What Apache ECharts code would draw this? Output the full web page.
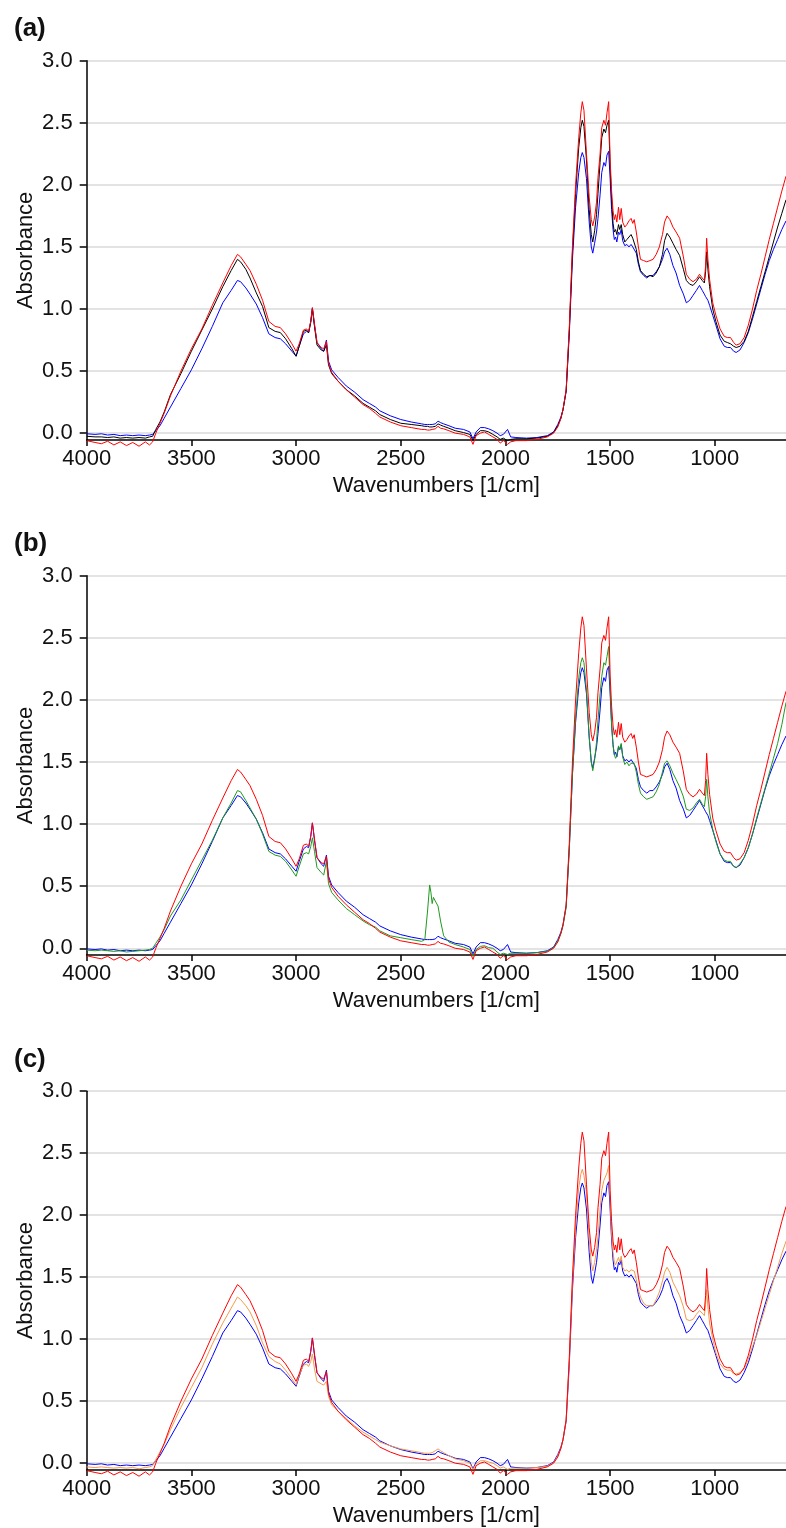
<!DOCTYPE html>
<html><head><meta charset="utf-8">
<script src="https://cdn.jsdelivr.net/npm/echarts@6/dist/echarts.min.js"></script>
<style>html,body{margin:0;padding:0;background:#fff}#chart{width:786px;height:1528px}</style>
</head><body><div id="chart"></div>
<script>
// wavenumbers (1/cm), descending
const wavenumbers = [
 4000, 3960, 3930, 3900, 3870, 3840, 3810, 3780, 3750, 3720,
 3700, 3685, 3670, 3650, 3630, 3600, 3550, 3500, 3450, 3400,
 3350, 3310, 3280, 3265, 3240, 3220, 3190, 3160, 3130, 3100,
 3075, 3050, 3020, 3000, 2985, 2965, 2950, 2940, 2930, 2922,
 2912, 2900, 2880, 2868, 2855, 2845, 2830, 2800, 2760, 2720,
 2680, 2650, 2620, 2600, 2550, 2500, 2450, 2400, 2385, 2372,
 2362, 2356, 2350, 2344, 2335, 2322, 2310, 2295, 2270, 2240,
 2200, 2170, 2155, 2140, 2120, 2100, 2080, 2060, 2040, 2025,
 2010, 1990, 1975, 1950, 1900, 1850, 1800, 1770, 1750, 1735,
 1725, 1710, 1695, 1680, 1665, 1650, 1640, 1633, 1625, 1613,
 1600, 1590, 1583, 1574, 1565, 1558, 1548, 1540, 1530, 1522,
 1515, 1507, 1500, 1493, 1486, 1480, 1474, 1468, 1460, 1454,
 1447, 1440, 1430, 1420, 1410, 1400, 1392, 1385, 1375, 1365,
 1355, 1340, 1325, 1310, 1295, 1280, 1265, 1250, 1240, 1228,
 1215, 1200, 1185, 1168, 1150, 1136, 1120, 1104, 1088, 1073,
 1060, 1050, 1044, 1039, 1033, 1025, 1010, 995, 975, 955,
 940, 925, 910, 898, 880, 860, 840, 820, 800, 780,
 760, 740, 720, 700, 680, 660
];
const redSpectrum = [
 -0.06, -0.075, -0.085, -0.065, -0.095, -0.07, -0.1, -0.075, -0.105, -0.07,
 -0.095, -0.07, 0.0, 0.08, 0.16, 0.30, 0.50, 0.68, 0.84, 1.03,
 1.21, 1.35, 1.44, 1.42, 1.36, 1.31, 1.20, 1.07, 0.90, 0.86,
 0.85, 0.80, 0.72, 0.66, 0.72, 0.83, 0.84, 0.82, 0.90, 1.01,
 0.88, 0.73, 0.69, 0.68, 0.74, 0.56, 0.49, 0.42, 0.35, 0.29,
 0.23, 0.20, 0.16, 0.13, 0.09, 0.06, 0.045, 0.03, 0.03, 0.025,
 0.025, 0.025, 0.03, 0.03, 0.035, 0.055, 0.04, 0.035, 0.02, 0.0,
 -0.01, -0.03, -0.09, -0.02, 0.0, 0.01, -0.01, -0.03, -0.05, -0.08,
 -0.06, -0.09, -0.07, -0.06, -0.06, -0.05, -0.03, 0.0, 0.05, 0.12,
 0.19, 0.35, 0.85, 1.50, 2.00, 2.38, 2.58, 2.67, 2.60, 2.25,
 1.90, 1.72, 1.67, 1.74, 1.86, 2.06, 2.25, 2.46, 2.52, 2.48,
 2.58, 2.67, 2.20, 1.95, 1.79, 1.72, 1.76, 1.70, 1.82, 1.72,
 1.81, 1.70, 1.66, 1.68, 1.71, 1.73, 1.69, 1.72, 1.62, 1.50,
 1.40, 1.39, 1.38, 1.39, 1.40, 1.44, 1.50, 1.60, 1.70, 1.75,
 1.72, 1.66, 1.62, 1.57, 1.42, 1.28, 1.24, 1.22, 1.24, 1.28,
 1.25, 1.23, 1.35, 1.57, 1.40, 1.24, 1.05, 0.95, 0.84, 0.78,
 0.77, 0.77, 0.73, 0.71, 0.72, 0.77, 0.87, 1.00, 1.15, 1.28,
 1.42, 1.56, 1.69, 1.82, 1.95, 2.07
];
const blueSpectrum = [
 -0.005, -0.01, -0.005, -0.015, -0.01, -0.02, -0.015, -0.02, -0.015, -0.02,
 -0.015, -0.01, 0.02, 0.06, 0.12, 0.21, 0.36, 0.51, 0.68, 0.86,
 1.05, 1.15, 1.23, 1.22, 1.17, 1.12, 1.04, 0.93, 0.80, 0.77,
 0.76, 0.72, 0.66, 0.62, 0.70, 0.80, 0.82, 0.81, 0.90, 1.01,
 0.87, 0.73, 0.68, 0.66, 0.75, 0.58, 0.51, 0.45, 0.38, 0.33,
 0.27, 0.24, 0.21, 0.18, 0.14, 0.11, 0.09, 0.075, 0.07, 0.07,
 0.07, 0.07, 0.07, 0.072, 0.075, 0.097, 0.085, 0.075, 0.06, 0.04,
 0.03, 0.01, -0.045, 0.01, 0.045, 0.045, 0.035, 0.02, 0.0, -0.02,
 -0.01, 0.03, -0.03, -0.035, -0.04, -0.035, -0.02, 0.01, 0.07, 0.13,
 0.19, 0.34, 0.80, 1.40, 1.82, 2.10, 2.22, 2.26, 2.22, 2.05,
 1.70, 1.50, 1.45, 1.53, 1.62, 1.73, 1.92, 2.10, 2.18, 2.15,
 2.24, 2.27, 2.05, 1.80, 1.64, 1.56, 1.58, 1.54, 1.62, 1.60,
 1.64, 1.55, 1.51, 1.52, 1.50, 1.52, 1.50, 1.50, 1.45, 1.36,
 1.30, 1.27, 1.25, 1.27, 1.27, 1.30, 1.34, 1.40, 1.46, 1.49,
 1.44, 1.35, 1.29, 1.19, 1.12, 1.05, 1.07, 1.11, 1.15, 1.19,
 1.15, 1.12, 1.10, 1.09, 1.07, 1.03, 0.95, 0.87, 0.76, 0.70,
 0.69, 0.69, 0.66, 0.65, 0.67, 0.73, 0.81, 0.92, 1.04, 1.16,
 1.28, 1.39, 1.48, 1.56, 1.64, 1.71
];
const blackSpectrum = [
 -0.025, -0.03, -0.03, -0.035, -0.03, -0.04, -0.035, -0.04, -0.035, -0.04,
 -0.03, -0.025, 0.03, 0.09, 0.17, 0.31, 0.48, 0.66, 0.83, 1.00,
 1.18, 1.31, 1.40, 1.38, 1.32, 1.25, 1.13, 1.02, 0.85, 0.82,
 0.81, 0.76, 0.68, 0.62, 0.70, 0.82, 0.83, 0.81, 0.89, 1.00,
 0.86, 0.71, 0.67, 0.66, 0.71, 0.55, 0.48, 0.42, 0.35, 0.30,
 0.24, 0.21, 0.18, 0.15, 0.11, 0.08, 0.07, 0.06, 0.055, 0.055,
 0.05, 0.05, 0.05, 0.052, 0.055, 0.075, 0.065, 0.055, 0.04, 0.02,
 0.005, -0.01, -0.06, -0.01, 0.02, 0.02, 0.01, -0.01, -0.03, -0.05,
 -0.04, -0.06, -0.05, -0.045, -0.045, -0.04, -0.025, 0.005, 0.06, 0.12,
 0.19, 0.34, 0.83, 1.46, 1.93, 2.30, 2.46, 2.52, 2.47, 2.20,
 1.80, 1.60, 1.54, 1.63, 1.76, 1.93, 2.18, 2.38, 2.45, 2.42,
 2.48, 2.52, 2.15, 1.88, 1.69, 1.62, 1.64, 1.60, 1.68, 1.64,
 1.68, 1.60, 1.54, 1.56, 1.58, 1.60, 1.57, 1.58, 1.48, 1.38,
 1.31, 1.28, 1.26, 1.27, 1.26, 1.29, 1.34, 1.44, 1.55, 1.61,
 1.58, 1.53, 1.48, 1.43, 1.32, 1.23, 1.20, 1.19, 1.22, 1.26,
 1.23, 1.21, 1.30, 1.46, 1.32, 1.18, 1.00, 0.90, 0.79, 0.74,
 0.73, 0.72, 0.70, 0.69, 0.70, 0.74, 0.82, 0.94, 1.06, 1.18,
 1.30, 1.42, 1.54, 1.66, 1.77, 1.88
];
const greenSpectrum = [
 -0.015, -0.02, -0.015, -0.02, -0.025, -0.02, -0.03, -0.025, -0.02, -0.015,
 -0.01, 0.0, 0.04, 0.09, 0.15, 0.26, 0.39, 0.55, 0.71, 0.87,
 1.05, 1.17, 1.27, 1.26, 1.19, 1.13, 1.04, 0.92, 0.78, 0.75,
 0.74, 0.70, 0.63, 0.58, 0.66, 0.76, 0.77, 0.76, 0.82, 0.89,
 0.78, 0.65, 0.61, 0.59, 0.70, 0.52, 0.45, 0.39, 0.32, 0.27,
 0.22, 0.19, 0.17, 0.14, 0.10, 0.085, 0.07, 0.056, 0.07, 0.30,
 0.51, 0.45, 0.36, 0.41, 0.38, 0.34, 0.22, 0.10, 0.05, 0.03,
 0.01, -0.01, -0.065, -0.01, 0.015, 0.02, 0.005, 0.0, -0.03, -0.05,
 -0.04, -0.05, -0.04, -0.04, -0.04, -0.035, -0.025, 0.005, 0.06, 0.12,
 0.18, 0.33, 0.80, 1.40, 1.85, 2.18, 2.30, 2.34, 2.30, 2.08,
 1.70, 1.50, 1.43, 1.52, 1.66, 1.84, 2.05, 2.19, 2.30, 2.28,
 2.35, 2.43, 2.10, 1.80, 1.63, 1.56, 1.53, 1.55, 1.63, 1.60,
 1.65, 1.54, 1.48, 1.50, 1.47, 1.49, 1.48, 1.49, 1.42, 1.32,
 1.25, 1.22, 1.20, 1.21, 1.22, 1.26, 1.32, 1.42, 1.49, 1.51,
 1.47, 1.41, 1.36, 1.30, 1.22, 1.12, 1.11, 1.13, 1.17, 1.20,
 1.16, 1.14, 1.22, 1.36, 1.22, 1.09, 0.96, 0.86, 0.76, 0.71,
 0.70, 0.70, 0.66, 0.65, 0.68, 0.73, 0.81, 0.92, 1.05, 1.17,
 1.29, 1.41, 1.53, 1.65, 1.80, 1.98
];
const orangeSpectrum = [
 -0.03, -0.035, -0.03, -0.035, -0.04, -0.035, -0.04, -0.035, -0.045, -0.035,
 -0.03, -0.02, 0.03, 0.09, 0.15, 0.27, 0.45, 0.61, 0.77, 0.96,
 1.13, 1.25, 1.34, 1.32, 1.27, 1.22, 1.11, 0.97, 0.86, 0.82,
 0.80, 0.75, 0.68, 0.63, 0.71, 0.79, 0.80, 0.78, 0.82, 0.88,
 0.76, 0.66, 0.64, 0.63, 0.66, 0.54, 0.47, 0.42, 0.36, 0.30,
 0.25, 0.22, 0.19, 0.17, 0.14, 0.115, 0.10, 0.085, 0.08, 0.08,
 0.08, 0.08, 0.085, 0.09, 0.10, 0.115, 0.10, 0.085, 0.06, 0.035,
 0.02, 0.0, -0.05, -0.005, 0.02, 0.02, 0.01, 0.0, -0.02, -0.04,
 -0.03, -0.05, -0.04, -0.04, -0.04, -0.035, -0.025, 0.005, 0.06, 0.12,
 0.19, 0.35, 0.84, 1.45, 1.90, 2.22, 2.33, 2.37, 2.32, 2.18,
 1.80, 1.62, 1.55, 1.62, 1.72, 1.83, 2.05, 2.20, 2.28, 2.27,
 2.34, 2.40, 2.13, 1.85, 1.70, 1.62, 1.60, 1.59, 1.66, 1.62,
 1.67, 1.58, 1.55, 1.56, 1.54, 1.56, 1.55, 1.55, 1.48, 1.40,
 1.34, 1.29, 1.27, 1.27, 1.27, 1.32, 1.38, 1.47, 1.54, 1.58,
 1.54, 1.46, 1.41, 1.35, 1.26, 1.16, 1.15, 1.16, 1.20, 1.23,
 1.21, 1.19, 1.28, 1.40, 1.26, 1.13, 1.00, 0.89, 0.80, 0.76,
 0.75, 0.75, 0.72, 0.72, 0.73, 0.76, 0.84, 0.94, 1.03, 1.14,
 1.25, 1.36, 1.47, 1.58, 1.69, 1.79
];
const panelLabels = ['(a)', '(b)', '(c)'];
const xTickLabels = [4000, 3500, 3000, 2500, 2000, 1500, 1000];
const yTickLabels = [0, 0.5, 1.0, 1.5, 2.0, 2.5, 3.0];

const FONT = 'Liberation Sans, Arial, sans-serif';
const panels = [
  [['blue', blueSpectrum, '#0000ff'], ['black', blackSpectrum, '#000000'], ['red', redSpectrum, '#ff0000']],
  [['blue', blueSpectrum, '#0000ff'], ['green', greenSpectrum, '#1f9a1f'], ['red', redSpectrum, '#ff0000']],
  [['blue', blueSpectrum, '#0000ff'], ['orange', orangeSpectrum, '#f39a4c'], ['red', redSpectrum, '#ff0000']]
];
const gridTops = [60.7, 575.8, 1091.2];
const labelTops = [16, 531, 1047];

const grid = [], xAxis = [], yAxis = [], series = [], title = [];
panels.forEach((p, i) => {
  grid.push({left: 86.7, top: gridTops[i], width: 700, height: 379.3, containLabel: false});
  title.push({text: panelLabels[i], left: 14, top: labelTops[i], padding: 0,
    textStyle: {fontFamily: FONT, fontSize: 26, fontWeight: 'bold', color: '#111'}});
  xAxis.push({
    type: 'value', gridIndex: i, inverse: true, min: 660, max: 4000, splitNumber: 6,
    name: 'Wavenumbers [1/cm]', nameLocation: 'middle', nameGap: 35, nameMoveOverlap: false,
    nameTextStyle: {fontFamily: FONT, fontSize: 22, color: '#111'},
    axisLine: {show: true, onZero: false, lineStyle: {color: '#000', width: 1.5}},
    axisTick: {show: true, length: 6, customValues: xTickLabels, lineStyle: {color: '#000', width: 1.5}},
    axisLabel: {show: true, customValues: xTickLabels, margin: 8, fontFamily: FONT, fontSize: 22, color: '#111',
      formatter: v => (xTickLabels.indexOf(v) >= 0 ? String(v) : '')},
    splitLine: {show: false}
  });
  yAxis.push({
    type: 'value', gridIndex: i, min: -0.055, max: 3, splitNumber: 6,
    name: 'Absorbance', nameLocation: 'middle', nameGap: 50, nameMoveOverlap: false,
    nameTextStyle: {fontFamily: FONT, fontSize: 22, color: '#111'},
    axisLine: {show: true, onZero: false, lineStyle: {color: '#000', width: 1.5}},
    axisTick: {show: true, length: 7, customValues: yTickLabels, lineStyle: {color: '#000', width: 1.5}},
    axisLabel: {show: true, customValues: yTickLabels, margin: 14, fontFamily: FONT, fontSize: 22, color: '#111',
      formatter: v => (v < 0 ? '' : v.toFixed(1))},
    splitLine: {show: true, lineStyle: {color: '#e3e3e3', width: 2}}
  });
  p.forEach(([name, vals, color], k) => {
    series.push({
      name: name, type: 'line', xAxisIndex: i, yAxisIndex: i,
      data: wavenumbers.map((w, j) => [w, vals[j]]),
      showSymbol: false, symbol: 'none', clip: false, z: 2 + k,
      lineStyle: {color: color, width: 1}, itemStyle: {color: color},
      emphasis: {disabled: true}
    });
  });
});

const chart = echarts.init(document.getElementById('chart'), null, {renderer: 'canvas'});
chart.setOption({animation: false, backgroundColor: '#fff', title, grid, xAxis, yAxis, series});
</script>
</body></html>
